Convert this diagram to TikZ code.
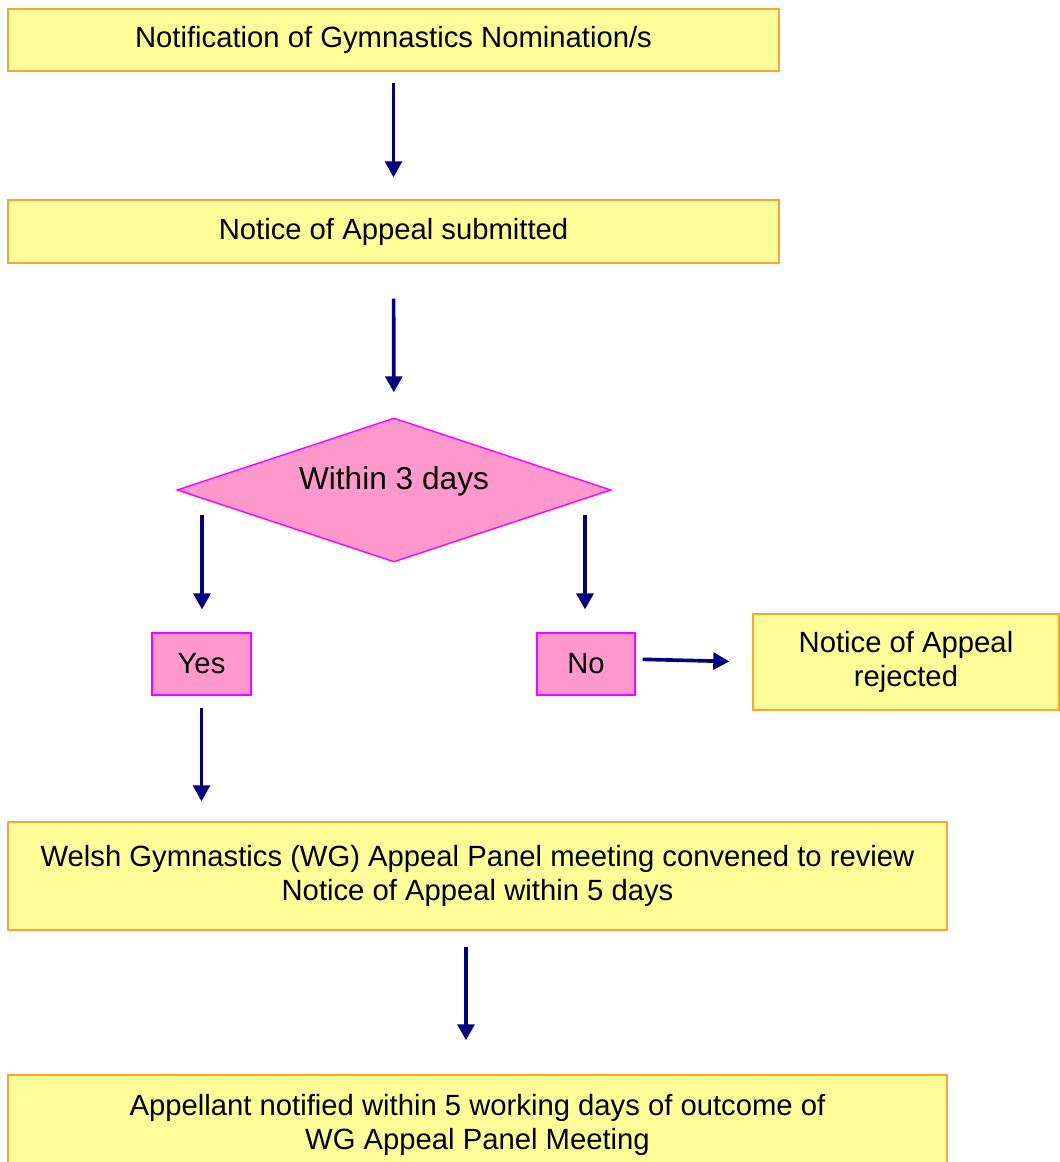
\documentclass[tikz,border=0pt]{standalone}
\usepackage{fontspec}
\setmainfont{Liberation Sans}
\usetikzlibrary{
    shapes.geometric,
    arrows.meta,
    positioning,
    calc
}
\definecolor{boxyellow}{RGB}{255, 255, 153}
\definecolor{boxorange}{RGB}{255, 163, 51}
\definecolor{decpink}{RGB}{255, 153, 204}
\definecolor{decmagenta}{RGB}{255, 0, 255}
\definecolor{arrownavy}{RGB}{0, 0, 128}

\begin{document}
\begin{tikzpicture}[
                stage/.style={draw=boxorange, fill=boxyellow, line width=1pt, align=center, inner sep=0pt,
                    font=\fontsize{20.8pt}{24pt}\selectfont},
                answer/.style={draw=decmagenta, fill=decpink, line width=0.8pt, align=center, inner sep=0pt,
                    minimum width=2.45cm, minimum height=1.55cm, font=\fontsize{20.8pt}{24pt}\selectfont},
                decision/.style={diamond, shape aspect=3, draw=decmagenta, fill=decpink, line width=1pt, inner sep=0pt,
                    minimum width=10.85cm, minimum height=3.6cm, font=\fontsize{22.5pt}{26pt}\selectfont},
                arrow/.style={-{Triangle[length=0.4cm, width=0.42cm]}, draw=arrownavy, line width=2.6pt}
            ]
                \useasboundingbox (0, 0) rectangle (26.475, 29.05);

                % Start
                \node[stage, minimum width=19.275cm, minimum height=1.55cm] (nomination) at (9.8375, 28.05) {Notification of Gymnastics Nomination/s};
                \node[stage, minimum width=19.275cm, minimum height=1.575cm] (submitted) at (9.8375, 23.2625) {Notice of Appeal submitted};

                % Decision
                \node[decision] (within) at (9.85, 16.8) {\raisebox{0.6cm}{Within 3 days}};
                \coordinate (withinL) at (5.05, 16.175);
                \coordinate (withinR) at (14.625, 16.175);

                \node[answer, minimum width=2.475cm] (yes) at (5.0375, 12.45) {Yes};
                \node[answer] (no) at (14.65, 12.45) {No};
                \node[stage, minimum width=7.65cm, minimum height=2.4cm] (rejected) at (22.65, 12.5) {Notice of Appeal\\rejected};

                % Panel
                \node[stage, minimum width=23.475cm, minimum height=2.7cm] (panel) at (11.9375, 7.15)
                    {Welsh Gymnastics (WG) Appeal Panel meeting convened to review\\Notice of Appeal within 5 days};
                \node[stage, minimum width=23.475cm, minimum height=2.5cm] (outcome) at (11.9375, 0.925)
                    {Appellant notified within 5 working days of outcome of\\WG Appeal Panel Meeting};

                \draw[arrow, shorten <=0.275cm, shorten >=0.55cm] (nomination) -- (submitted);
                \draw[arrow, shorten <=0.875cm, shorten >=0.625cm] (submitted) -- (within);
                \draw[arrow, shorten >=0.575cm] (withinL) -- (withinL |- yes.north);
                \draw[arrow, shorten >=0.575cm] (withinR) -- (withinR |- no.north);
                \draw[arrow, shorten <=0.175cm, shorten >=0.575cm] ([yshift=0.12cm]no.east) -- (rejected.west);
                \draw[arrow, shorten <=0.3cm, shorten >=0.5cm] (yes.south) -- (yes.south |- panel.north);
                \draw[arrow, shorten <=0.4cm, shorten >=0.85cm] ([xshift=-0.2875cm]panel.south) -- ([xshift=-0.2875cm]outcome.north);
            \end{tikzpicture}
\end{document}
